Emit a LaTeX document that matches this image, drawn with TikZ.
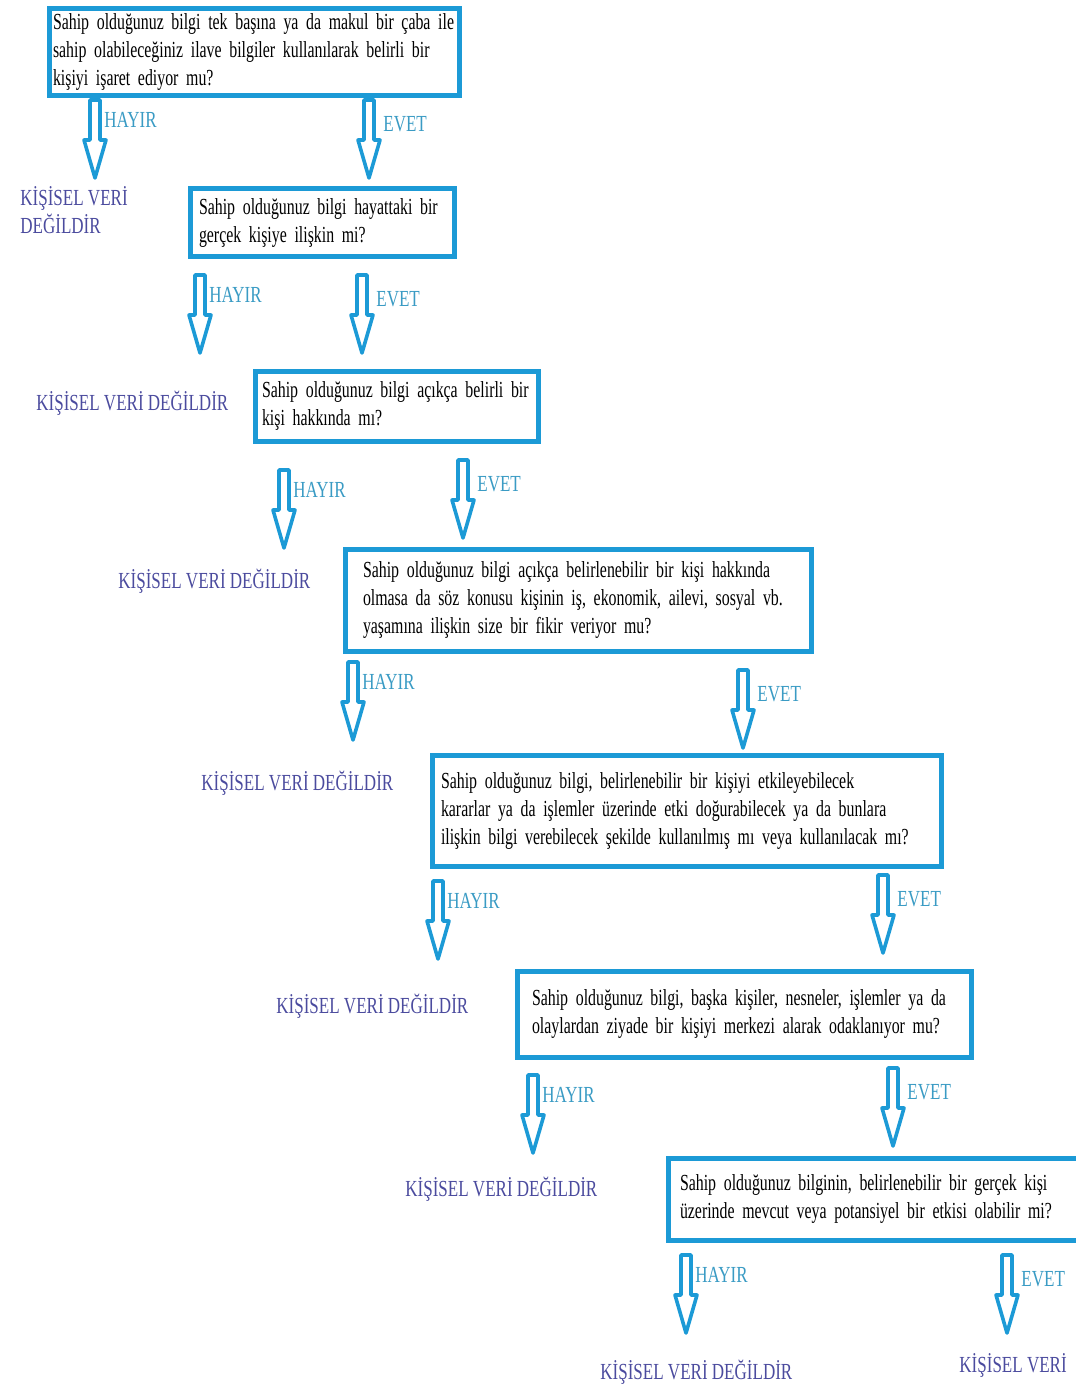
\documentclass[tikz,border=0pt]{standalone}
\usepackage{fontspec}
\setmainfont[FakeStretch=0.74]{Liberation Serif}
\newfontfamily\qfont[FakeStretch=0.69]{Liberation Serif}
\definecolor{boxblue}{HTML}{1C9AD6}
\definecolor{labblue}{HTML}{3A9BC4}
\definecolor{outpurple}{HTML}{4B4B9E}
\tikzset{
  qbox/.style={draw=boxblue, line width=2.5pt, anchor=north west, align=left,
    inner ysep=0pt, font=\qfont\fontsize{11.5}{14}\selectfont},
  arrline/.style={draw=boxblue, line width=1.8pt, fill=white, line join=round},
  downarrow/.pic={\draw[arrline] (-5,0) -- (-5,40) -- (-11,40) -- (0,78)
    -- (11,40) -- (5,40) -- (5,0) -- cycle;},
  anslbl/.style={text=labblue, anchor=west, inner sep=0pt, font=\fontsize{11.5}{14}\selectfont},
  outlbl/.style={text=outpurple, anchor=west, align=left, inner sep=0pt,
    font=\fontsize{11.5}{14}\selectfont},
}
\begin{document}
\begin{tikzpicture}[x=0.5pt,y=-0.5pt]
  \useasboundingbox (0,0) rectangle (1075,1390);

  % question boxes
  \node[qbox, inner xsep=2pt, text width=201pt, minimum height=43.5pt] (q1) at (46.5,6.5)
    {Sahip olduğunuz bilgi tek başına ya da makul bir çaba ile\\
     sahip olabileceğiniz ilave bilgiler kullanılarak belirli bir\\
     kişiyi işaret ediyor mu?};
  \node[qbox, inner xsep=4.5pt, text width=123pt, minimum height=34pt] (q2) at (187.5,186.5)
    {Sahip olduğunuz bilgi hayattaki bir\\ gerçek kişiye ilişkin mi?};
  \node[qbox, inner xsep=3.5pt, text width=134.5pt, minimum height=35pt] (q3) at (252.5,368.5)
    {Sahip olduğunuz bilgi açıkça belirli bir\\ kişi hakkında mı?};
  \node[qbox, inner xsep=9pt, text width=215pt, minimum height=51pt] (q4) at (342.5,546.5)
    {Sahip olduğunuz bilgi açıkça belirlenebilir bir kişi hakkında\\
     olmasa da söz konusu kişinin iş, ekonomik, ailevi, sosyal vb.\\
     yaşamına ilişkin size bir fikir veriyor mu?};
  \node[qbox, inner xsep=4.5pt, text width=245.5pt, minimum height=55.5pt] (q5) at (429.5,752.5)
    {Sahip olduğunuz bilgi, belirlenebilir bir kişiyi etkileyebilecek\\
     kararlar ya da işlemler üzerinde etki doğurabilecek ya da bunlara\\
     ilişkin bilgi verebilecek şekilde kullanılmış mı veya kullanılacak mı?};
  \node[qbox, inner xsep=7.5pt, text width=212pt, minimum height=43pt] (q6) at (514.5,968.5)
    {Sahip olduğunuz bilgi, başka kişiler, nesneler, işlemler ya da\\
     olaylardan ziyade bir kişiyi merkezi alarak odaklanıyor mu?};
  \node[qbox, inner xsep=6pt, text width=197pt, minimum height=41pt] (q7) at (665.5,1155.5)
    {Sahip olduğunuz bilginin, belirlenebilir bir gerçek kişi\\
     üzerinde mevcut veya potansiyel bir etkisi olabilir mi?};

  % HAYIR arrows
  \foreach \x/\y [count=\i] in {95/100,200/275,284/470,353/662,438/881,533/1075,686/1255}{
    \pic at (\x,\y) {downarrow};
    \node[anslbl] (no\i) at (\x+9,\y+20) {HAYIR};
  }
  % EVET arrows
  \foreach \x/\y [count=\i] in {369/100,362/275,463/460,743/670,883/875,893/1068,1007/1255}{
    \pic at (\x,\y) {downarrow};
    \node[anslbl] (yes\i) at (\x+14,\y+24) {EVET};
  }

  % outcomes
  \node[outlbl] (o1) at (20,210) {KİŞİSEL VERİ\\DEĞİLDİR};
  \node[outlbl] (o2) at (36,403) {KİŞİSEL VERİ DEĞİLDİR};
  \node[outlbl] (o3) at (118,581) {KİŞİSEL VERİ DEĞİLDİR};
  \node[outlbl] (o4) at (201,783) {KİŞİSEL VERİ DEĞİLDİR};
  \node[outlbl] (o5) at (276,1006) {KİŞİSEL VERİ DEĞİLDİR};
  \node[outlbl] (o6) at (405,1189) {KİŞİSEL VERİ DEĞİLDİR};
  \node[outlbl] (o7) at (600,1372) {KİŞİSEL VERİ DEĞİLDİR};
  \node[outlbl] (o8) at (959,1365) {KİŞİSEL VERİ};

\end{tikzpicture}
\end{document}
